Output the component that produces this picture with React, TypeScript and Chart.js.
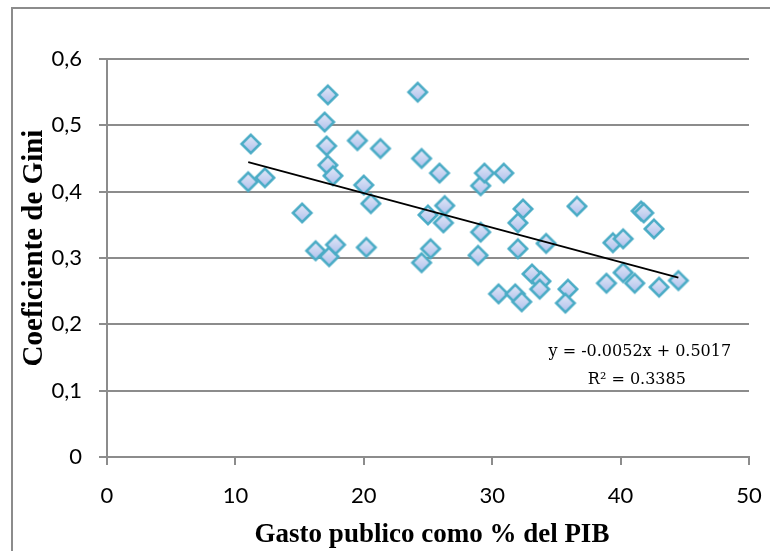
import { useEffect, useRef } from "react";
import { Chart, registerables } from "chart.js";

Chart.register(...registerables);

// Public spending (% of GDP) per country
const gastoPib = [
  11.2, 11.0, 12.3, 15.2, 16.25, 17.3, 17.8, 17.2, 16.95, 17.1, 17.2, 17.6,
  19.5, 20.0, 20.55, 20.2, 21.3, 24.2, 24.5, 25.0, 25.2, 24.5, 25.9, 26.3,
  26.2, 29.1, 29.4, 29.1, 28.9, 30.9, 30.5, 31.8, 32.3, 32.4, 32.0, 32.0,
  34.2, 33.1, 33.8, 33.7, 35.9, 35.7, 36.6, 38.9, 39.4, 40.2, 40.2, 41.1,
  41.6, 41.8, 42.6, 43.0, 44.5,
];

// Gini coefficient for the same countries
const gini = [
  0.472, 0.415, 0.421, 0.368, 0.311, 0.302, 0.32, 0.546, 0.505, 0.469, 0.44, 0.424,
  0.477, 0.41, 0.382, 0.316, 0.465, 0.55, 0.45, 0.365, 0.314, 0.293, 0.428, 0.379,
  0.353, 0.409, 0.428, 0.339, 0.304, 0.428, 0.246, 0.246, 0.234, 0.374, 0.353, 0.314,
  0.322, 0.276, 0.265, 0.253, 0.253, 0.232, 0.378, 0.262, 0.323, 0.329, 0.278, 0.262,
  0.371, 0.368, 0.344, 0.256, 0.266,
];

// Linear trend line fitted to the data
const SLOPE = -0.0052;
const INTERCEPT = 0.5017;
const R_SQUARED = 0.3385;

const xRange = [0, 50];
const yRange = [0, 0.6];
const X_TITLE = "Gasto publico como % del PIB";
const Y_TITLE = "Coeficiente de Gini";

const GRID = "#8c8c8c";

function makeDiamond(): HTMLCanvasElement {
  const size = 24;
  const c = document.createElement("canvas");
  c.width = size;
  c.height = size;
  const ctx = c.getContext("2d")!;
  const m = size / 2;
  const r = 9.2;
  const g = ctx.createLinearGradient(0, m - r, 0, m + r);
  g.addColorStop(0, "#e3e9f8");
  g.addColorStop(1, "#afc0ec");
  ctx.beginPath();
  ctx.moveTo(m, m - r);
  ctx.lineTo(m + r, m);
  ctx.lineTo(m, m + r);
  ctx.lineTo(m - r, m);
  ctx.closePath();
  ctx.fillStyle = g;
  ctx.fill();
  ctx.lineWidth = 2.6;
  ctx.strokeStyle = "#4bacc6";
  ctx.stroke();
  return c;
}

const fmtEq = (v: number) => v.toFixed(4);

const overlay = {
  id: "overlay",
  beforeDraw(chart: any) {
    const { ctx, width, height } = chart;
    ctx.save();
    ctx.fillStyle = "#ffffff";
    ctx.fillRect(0, 0, width, height);
    ctx.strokeStyle = GRID;
    ctx.lineWidth = 2;
    ctx.beginPath();
    ctx.moveTo(12, height);
    ctx.lineTo(12, 8);
    ctx.lineTo(width, 8);
    ctx.stroke();
    ctx.restore();
  },
  afterDraw(chart: any) {
    const { ctx, chartArea: a, scales } = chart;
    ctx.save();
    ctx.fillStyle = "#000";
    ctx.textAlign = "center";
    ctx.textBaseline = "alphabetic";

    // axis titles
    ctx.font = 'bold 27px "Liberation Serif"';
    ctx.fillText(X_TITLE, (a.left + a.right) / 2 + 4, a.bottom + 85);
    ctx.save();
    ctx.translate(42, (a.top + a.bottom) / 2 - 10);
    ctx.rotate(-Math.PI / 2);
    ctx.font = 'bold 29px "Liberation Serif"';
    ctx.fillText(Y_TITLE, 0, 0);
    ctx.restore();

    // trend line equation
    const cx = scales.x.getPixelForValue(41.5);
    ctx.font = '16px "DejaVu Serif"';
    const sign = INTERCEPT >= 0 ? "+" : "-";
    ctx.fillText(
      `y = ${fmtEq(SLOPE)}x ${sign} ${fmtEq(Math.abs(INTERCEPT))}`,
      cx,
      scales.y.getPixelForValue(0.152)
    );
    ctx.fillText(`R² = ${fmtEq(R_SQUARED)}`, cx - 3, scales.y.getPixelForValue(0.11));
    ctx.restore();
  },
};

export default function App() {
  const ref = useRef<HTMLCanvasElement>(null);

  useEffect(() => {
    document.body.style.margin = "0";
    const canvas = ref.current;
    if (!canvas) return;

    const points = gastoPib.map((x, i) => ({ x, y: gini[i] }));
    const xMin = Math.min(...gastoPib);
    const xMax = Math.max(...gastoPib);
    const trend = [
      { x: xMin, y: SLOPE * xMin + INTERCEPT },
      { x: xMax, y: SLOPE * xMax + INTERCEPT },
    ];

    const chart = new Chart(canvas, {
      type: "scatter",
      data: {
        datasets: [
          {
            type: "line",
            data: trend,
            borderColor: "#000",
            borderWidth: 1.8,
            pointRadius: 0,
            fill: false,
          } as any,
          {
            data: points,
            pointStyle: makeDiamond(),
            pointRadius: 10,
            pointHoverRadius: 10,
          },
        ],
      },
      options: {
        responsive: false,
        animation: false,
        events: [],
        layout: { padding: { top: 59, right: 21, left: 0, bottom: 0 } },
        plugins: { legend: { display: false }, tooltip: { enabled: false } },
        scales: {
          x: {
            type: "linear",
            min: xRange[0],
            max: xRange[1],
            afterFit: (s: any) => {
              s.height = 94;
              s.paddingLeft = 0;
              s.paddingRight = 0;
            },
            ticks: {
              stepSize: 10,
              padding: 18,
              color: "#000",
              font: { family: "Lato", size: 22 },
            },
            grid: {
              drawOnChartArea: false,
              drawTicks: true,
              tickLength: 8,
              tickColor: GRID,
              lineWidth: 2,
            },
            border: { color: GRID, width: 2 },
          },
          y: {
            type: "linear",
            min: yRange[0],
            max: yRange[1],
            afterFit: (s: any) => {
              s.width = 107;
              s.paddingTop = 0;
              s.paddingBottom = 0;
            },
            ticks: {
              stepSize: 0.1,
              padding: 17,
              color: "#000",
              font: { family: "Lato", size: 22 },
              callback: (v: any) =>
                Number(v) === 0 ? "0" : Number(v).toFixed(1).replace(".", ","),
            },
            grid: {
              color: GRID,
              lineWidth: 2,
              tickLength: 8,
              tickColor: GRID,
            },
            border: { color: GRID, width: 2 },
          },
        },
      },
      plugins: [overlay],
    });

    return () => chart.destroy();
  }, []);

  return <canvas ref={ref} width={770} height={551} style={{ display: "block" }} />;
}
